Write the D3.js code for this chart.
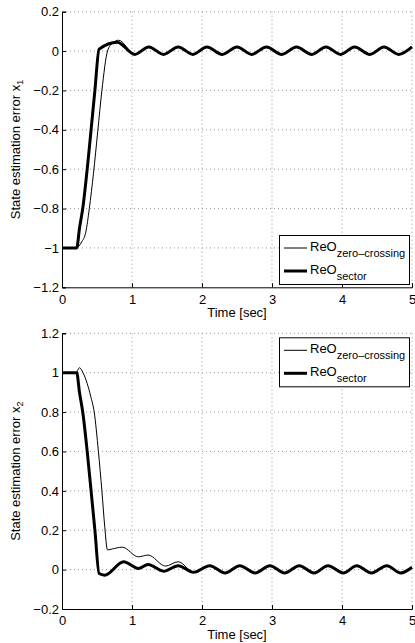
<!DOCTYPE html>
<html>
<head>
<meta charset="utf-8">
<script src="https://cdn.jsdelivr.net/npm/d3@7"></script>
<style>
  body { margin: 0; background: #fff; }
  svg { display: block; font-family: "Liberation Sans", Arial, sans-serif; }
</style>
</head>
<body>
<svg id="chart" width="415" height="643"></svg>
<script>
const timeTicks = [0, 1, 2, 3, 4, 5];
const x1Ticks = [-1.2, -1, -0.8, -0.6, -0.4, -0.2, 0, 0.2];
const x2Ticks = [-0.2, 0, 0.2, 0.4, 0.6, 0.8, 1, 1.2];
const legendNames = ['zero\u2013crossing', 'sector'];

// [time, value]
const x1Zero = [[0,-1],[0.2,-1],[0.28,-0.97],[0.34,-0.92],[0.39,-0.8],[0.45,-0.62],[0.51,-0.41],[0.57,-0.2],[0.65,0],[0.72,0.04],[0.81,0.055],
  [1.04,-0.017],[1.24,0.021],[1.45,-0.017],[1.66,0.021],[1.87,-0.017],[2.07,0.021],[2.29,-0.017],[2.5,0.021],[2.71,-0.017],[2.92,0.021],
  [3.14,-0.017],[3.35,0.021],[3.57,-0.017],[3.77,0.021],[3.98,-0.017],[4.18,0.021],[4.4,-0.017],[4.6,0.021],[4.81,-0.017],[5,0.021]];
const x1Sector = [[0,-1],[0.21,-1],[0.25,-0.9],[0.3,-0.79],[0.36,-0.6],[0.41,-0.42],[0.47,-0.2],[0.53,0.01],[0.79,0.045],
  [1.04,-0.017],[1.24,0.021],[1.45,-0.017],[1.66,0.021],[1.87,-0.017],[2.07,0.021],[2.29,-0.017],[2.5,0.021],[2.71,-0.017],[2.92,0.021],
  [3.14,-0.017],[3.35,0.021],[3.57,-0.017],[3.77,0.021],[3.98,-0.017],[4.18,0.021],[4.4,-0.017],[4.6,0.021],[4.81,-0.017],[5,0.021]];
const x2Zero = [[0,1],[0.2,1],[0.25,1.025],[0.3,1],[0.36,0.945],[0.41,0.88],[0.46,0.8],[0.52,0.6],[0.57,0.4],[0.61,0.22],[0.65,0.1],
  [0.72,0.105],[0.86,0.114],[1.09,0.065],[1.23,0.074],[1.48,0.018],[1.66,0.04],[1.88,-0.012],[2.11,0.02],[2.33,-0.017],[2.54,0.02],
  [2.76,-0.017],[2.97,0.02],[3.18,-0.017],[3.39,0.02],[3.6,-0.017],[3.8,0.02],[4.02,-0.017],[4.21,0.02],[4.42,-0.017],[4.64,0.02],[4.84,-0.017],[5,0.012]];
const x2Sector = [[0,1],[0.21,1],[0.25,0.9],[0.3,0.79],[0.36,0.6],[0.41,0.42],[0.47,0.2],[0.53,-0.02],[0.61,-0.028],[0.88,0.04],
  [1.09,0.006],[1.23,0.026],[1.45,-0.008],[1.66,0.02],[1.88,-0.014],[2.11,0.02],[2.33,-0.017],[2.54,0.02],
  [2.76,-0.017],[2.97,0.02],[3.18,-0.017],[3.39,0.02],[3.6,-0.017],[3.8,0.02],[4.02,-0.017],[4.21,0.02],[4.42,-0.017],[4.64,0.02],[4.84,-0.017],[5,0.012]];

const svg = d3.select('#chart');
const left = 62, right = 412;
const fmt = d3.format('~g');

function panel(top, bottom, ticks, sub, zero, sector, legendTop) {
  const g = svg.append('g');
  const x = d3.scaleLinear().domain([0, 5]).range([left, right]);
  const y = d3.scaleLinear().domain([ticks[0], ticks[ticks.length - 1]]).range([bottom, top]);

  // dotted grid
  g.append('g').selectAll('line').data(timeTicks.slice(1)).join('line')
    .attr('x1', d => x(d)).attr('x2', d => x(d)).attr('y1', top).attr('y2', bottom)
    .attr('stroke', '#999').attr('stroke-dasharray', '1,3');
  g.append('g').selectAll('line').data(ticks.slice(1)).join('line')
    .attr('x1', left).attr('x2', right).attr('y1', d => y(d)).attr('y2', d => y(d))
    .attr('stroke', '#999').attr('stroke-dasharray', '1,3');

  const xa = g.append('g').attr('transform', `translate(0,${bottom})`)
    .call(d3.axisBottom(x).tickValues(timeTicks).tickSize(-4).tickPadding(7).tickFormat(fmt));
  const ya = g.append('g').attr('transform', `translate(${left},0)`)
    .call(d3.axisLeft(y).tickValues(ticks).tickSize(-4).tickPadding(3).tickFormat(fmt));
  [xa, ya].forEach(a => {
    a.select('.domain').attr('stroke', '#000');
    a.selectAll('.tick line').attr('stroke', '#000');
    a.selectAll('text').attr('fill', '#000').attr('font-size', 13)
      .attr('font-family', '"Liberation Sans", Arial, sans-serif');
  });

  g.append('text').attr('x', (left + right) / 2).attr('y', bottom + 30)
    .attr('text-anchor', 'middle').attr('font-size', 13).text('Time [sec]');

  const yl = g.append('text').attr('transform', `translate(20,${(top + bottom) / 2}) rotate(-90)`)
    .attr('text-anchor', 'middle').attr('font-size', 13);
  yl.append('tspan').text('State estimation error x');
  yl.append('tspan').attr('font-size', 9).attr('dy', 3).text(sub);

  const line = d3.line().x(d => x(d[0])).y(d => y(d[1])).curve(d3.curveMonotoneX);
  g.append('path').datum(zero).attr('d', line)
    .attr('fill', 'none').attr('stroke', '#000').attr('stroke-width', 1);
  g.append('path').datum(sector).attr('d', line)
    .attr('fill', 'none').attr('stroke', '#000').attr('stroke-width', 3).attr('stroke-linejoin', 'round');

  // legend
  const lg = g.append('g').attr('transform', `translate(279,${legendTop})`);
  lg.append('rect').attr('x', 0.5).attr('y', 0.5).attr('width', 130).attr('height', 49)
    .attr('fill', '#fff').attr('stroke', '#000');
  legendNames.forEach((name, i) => {
    const ly = 13 + i * 23;
    lg.append('line').attr('x1', 5).attr('x2', 28).attr('y1', ly).attr('y2', ly)
      .attr('stroke', '#000').attr('stroke-width', i ? 3 : 1);
    const t = lg.append('text').attr('x', 31).attr('y', ly + 2.5).attr('font-size', 13);
    t.append('tspan').text('ReO');
    t.append('tspan').attr('font-size', 11).attr('dy', 6.5).text(name);
  });
}

panel(11.7, 287.3, x1Ticks, '1', x1Zero, x1Sector, 235);
panel(333.3, 609, x2Ticks, '2', x2Zero, x2Sector, 337.3);
</script>
</body>
</html>
